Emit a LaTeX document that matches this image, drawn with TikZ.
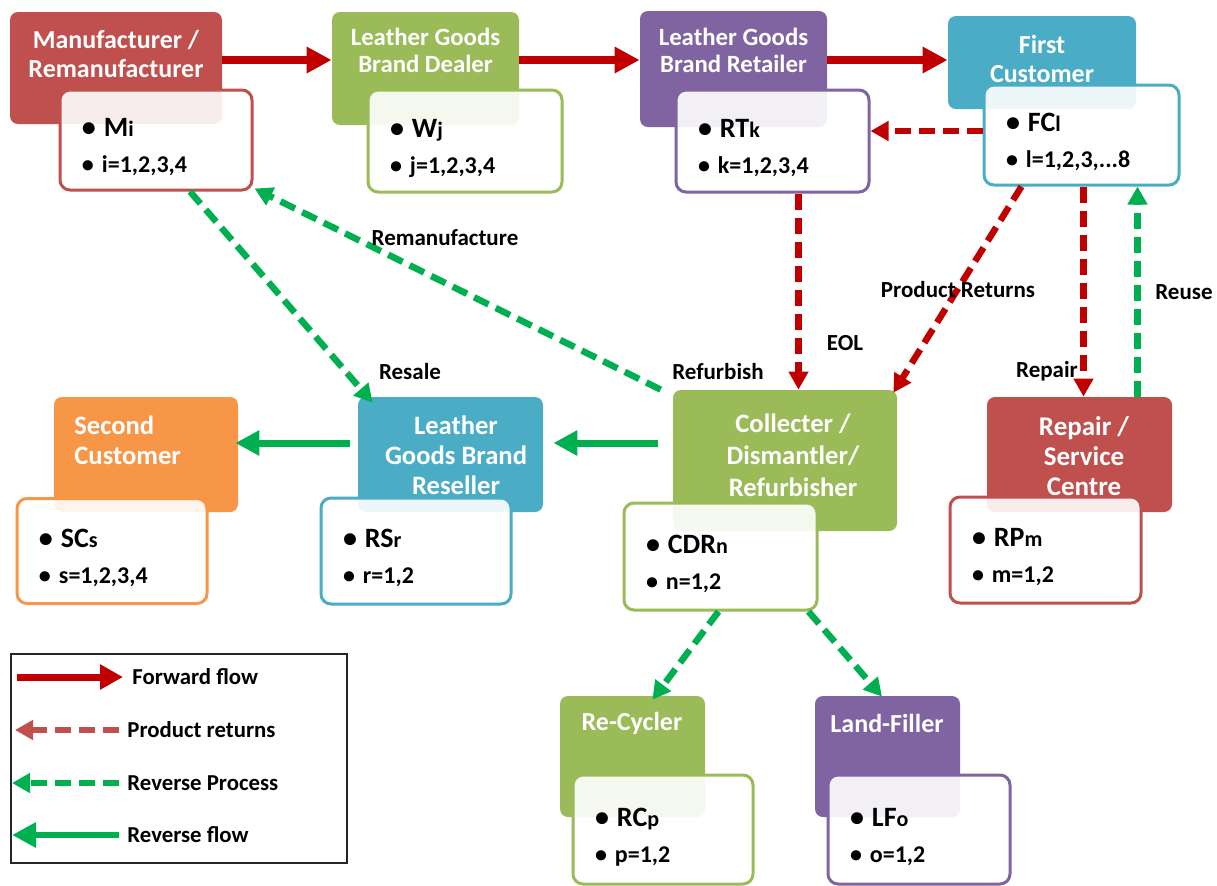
\documentclass[tikz,border=0pt]{standalone}
\usepackage{fontspec}
\setmainfont{Carlito}
\usepackage{tikz}
\usetikzlibrary{arrows.meta,positioning}
\definecolor{bred}{HTML}{C0504D}
\definecolor{bgreen}{HTML}{9BBB59}
\definecolor{bpurple}{HTML}{8064A2}
\definecolor{bblue}{HTML}{4BACC6}
\definecolor{borange}{HTML}{F79646}
\definecolor{fwdred}{HTML}{C00000}
\definecolor{revgreen}{HTML}{00B050}
\newcommand{\idx}[2]{{\rule{0pt}{16.5pt}\fontsize{14}{18}\selectfont\textbullet\ #1{\fontsize{11}{18}\selectfont #2}}}
\newcommand{\rng}[1]{\textbullet\ #1}
\tikzset{
  hd/.style={rectangle, rounded corners=4pt, draw=none, inner sep=0pt},
  ttl/.style={text=white, font=\bfseries\fontsize{13}{14.5}\selectfont,
              align=center, inner sep=0pt},
  lst/.style={rectangle, rounded corners=5pt, draw=#1, line width=1.5pt,
              fill=white, fill opacity=0.9, text opacity=1, text=black,
              align=left, inner xsep=11pt, inner ysep=0pt,
              font=\bfseries\fontsize{12}{18}\selectfont},
  fwd/.style={-{Triangle[length=12.5pt,width=12.5pt]}, line width=4pt, draw=fwdred},
  ret/.style={-{Triangle[length=9pt,width=9.5pt]}, line width=3.25pt,
              dash pattern=on 8pt off 4pt, draw=fwdred},
  rev/.style={ret, draw=revgreen},
  rflow/.style={-{Triangle[length=12pt,width=12pt]}, line width=3.5pt, draw=revgreen},
  lbl/.style={font=\bfseries\fontsize{11.5}{13}\selectfont, text=black, inner sep=1pt},
  lgd/.style={font=\bfseries\fontsize{11.4}{13}\selectfont, text=black, inner sep=0pt},
}
\begin{document}
\begin{tikzpicture}[x=0.5pt, y=-0.5pt]
\useasboundingbox (0,0) rectangle (1217,885);
\fill[white] (0,0) rectangle (1217,885);

% ---- forward chain ----
\node[hd, fill=bred, minimum width=106pt, minimum height=56pt] (mfg) at (116,68) {};
\node[ttl] (mfgt) at (116,54) {Manufacturer /\\Remanufacturer};
\node[lst=bred, text width=74pt, minimum height=50pt] (mfgl) at (156,140)
  {\idx{M}{i}\\ \rng{i=1,2,3,4}};

\node[hd, fill=bgreen, minimum width=93.5pt, minimum height=56.5pt] (dlr) at (425.5,68.5) {};
\node[ttl, font=\bfseries\fontsize{12.4}{13.5}\selectfont] (dlrt) at (425.5,50) {Leather Goods\\Brand Dealer};
\node[lst=bgreen, text width=75pt, minimum height=51pt] (dlrl) at (465,141)
  {\idx{W}{j}\\ \rng{j=1,2,3,4}};

\node[hd, fill=bpurple, minimum width=93.5pt, minimum height=58pt] (rtl) at (733.5,69) {};
\node[ttl, font=\bfseries\fontsize{12.4}{13.5}\selectfont] (rtlt) at (733.5,50) {Leather Goods\\Brand Retailer};
\node[lst=bpurple, text width=74.5pt, minimum height=51pt] (rtll) at (772.5,141)
  {\idx{RT}{k}\\ \rng{k=1,2,3,4}};

\node[hd, fill=bblue, minimum width=94pt, minimum height=46.5pt] (fc) at (1042,62.5) {};
\node[ttl] (fct) at (1042,59) {First\\Customer};
\node[lst=bblue, text width=75.5pt, minimum height=50pt] (fcl) at (1081.5,135)
  {\idx{FC}{l}\\ \rng{l=1,2,3,...8}};

% ---- reverse side ----
\node[hd, fill=borange, minimum width=92pt, minimum height=57.5pt] (sc) at (146,454.5) {};
\node[ttl, anchor=west, align=left, font=\bfseries\fontsize{13.3}{15}\selectfont] (sct) at (74,440) {Second\\Customer};
\node[lst=borange, text width=73pt, minimum height=52.5pt] (scl) at (112,551)
  {\idx{SC}{s}\\ \rng{s=1,2,3,4}};

\node[hd, fill=bblue, minimum width=92.5pt, minimum height=57.5pt] (rsl) at (450.5,454.5) {};
\node[ttl, font=\bfseries\fontsize{13.3}{15}\selectfont] (rslt) at (456,455) {Leather\\Goods Brand\\Reseller};
\node[lst=bblue, text width=73pt, minimum height=53pt] (rsll) at (416,551)
  {\idx{RS}{r}\\ \rng{r=1,2}};

\node[hd, fill=bgreen, minimum width=112pt, minimum height=70.5pt] (cdr) at (785,460.5) {};
\node[ttl, font=\bfseries\fontsize{13.3}{16}\selectfont] (cdrt) at (793,455.5) {Collecter /\\Dismantler/\\Refurbisher};
\node[lst=bgreen, text width=74.5pt, minimum height=53.5pt] (cdrl) at (720.5,556.5)
  {\idx{CDR}{n}\\ \rng{n=1,2}};

\node[hd, fill=bred, minimum width=92.5pt, minimum height=57.5pt] (rps) at (1079.5,454.5) {};
\node[ttl, font=\bfseries\fontsize{13.5}{15}\selectfont] (rpst) at (1084,456) {Repair /\\Service\\Centre};
\node[lst=bred, text width=73.5pt, minimum height=53pt] (rpsl) at (1045.5,550)
  {\idx{RP}{m}\\ \rng{m=1,2}};

\node[hd, fill=bgreen, minimum width=72.5pt, minimum height=60.5pt] (rcy) at (632.5,756.5) {};
\node[ttl, font=\bfseries\fontsize{13}{15}\selectfont] (rcyt) at (632,723) {Re-Cycler};
\node[lst=bgreen, text width=68pt, minimum height=54.5pt] (rcyl) at (663,829.5)
  {\idx{RC}{p}\\ \rng{p=1,2}};

\node[hd, fill=bpurple, minimum width=72.5pt, minimum height=60.5pt] (lfl) at (887.5,756.5) {};
\node[ttl, font=\bfseries\fontsize{13}{15}\selectfont] (lflt) at (887,723) {Land-Filler};
\node[lst=bpurple, text width=69pt, minimum height=54.5pt] (lfll) at (919,829.5)
  {\idx{LF}{o}\\ \rng{o=1,2}};

% ---- forward flow ----
\draw[fwd] ([yshift=4pt]mfg.east) -- ([yshift=4pt]mfg.east -| dlr.west);
\draw[fwd] ([yshift=4.25pt]dlr.east) -- ([yshift=4.25pt]dlr.east -| rtl.west);
\draw[fwd] ([yshift=4.5pt]rtl.east) -- ([yshift=4.5pt]rtl.east -| fc.west);

% ---- product returns ----
\draw[ret] ([yshift=2pt]fcl.west) -- ([yshift=2pt]fcl.west -| rtll.east);
\draw[ret] ([xshift=13pt]rtll.south) -- ([xshift=13pt]rtll.south |- cdr.north);
\draw[ret] ([xshift=-30pt]fcl.south) -- ([xshift=-2pt,yshift=-1.5pt]cdr.north east);
\draw[ret] ([xshift=1pt]fcl.south) -- ([xshift=1pt]fcl.south |- rps.north);

% ---- reverse process ----
\draw[rev] ([xshift=29pt]rps.north) -- ([xshift=29pt]rps.north |- fcl.south);
\draw[rev] ([xshift=-6pt]cdr.north west) -- ([xshift=0.5pt,yshift=1.5pt]mfgl.south east);
\draw[rev] ([xshift=17pt]mfgl.south) -- ([xshift=7.5pt,yshift=-3pt]rsl.north west);
\draw[rev] ([xshift=-1pt]cdrl.south) -- ([xshift=10pt,yshift=-2pt]rcy.north);
\draw[rev] ([xshift=44pt]cdrl.south) -- ([xshift=-2.75pt,yshift=-0.5pt]lfl.north);

% ---- reverse flow ----
\draw[rflow] ([xshift=-7.5pt,yshift=8.75pt]cdr.west) -- ([xshift=5pt,yshift=5.75pt]rsl.east);
\draw[rflow] ([xshift=-4pt,yshift=5.75pt]rsl.west) -- ([xshift=-1.5pt,yshift=5.75pt]sc.east);

% ---- labels ----
\node[lbl] (lrmf) at (445,238) {Remanufacture};
\node[lbl] (lrsl) at (410,372) {Resale};
\node[lbl] (lrfb) at (718,372) {Refurbish};
\node[lbl] (leol) at (845,343) {EOL};
\node[lbl] (lprt) at (958,290) {Product Returns};
\node[lbl] (lrep) at (1047,371) {Repair};
\node[lbl] (lreu) at (1184,292) {Reuse};

% ---- legend ----
\node[draw=black!85, line width=0.7pt, minimum width=168pt, minimum height=104.5pt,
      inner sep=0pt] (key) at (179,758.5) {};
\coordinate (k1a) at (17,677);  \coordinate (k1b) at (123,677);
\coordinate (k2a) at (119,730); \coordinate (k2b) at (15,730);
\coordinate (k3a) at (119,783); \coordinate (k3b) at (12,783);
\coordinate (k4a) at (119,835); \coordinate (k4b) at (12,835);
\draw[fwd, line width=3.5pt, -{Triangle[length=11.5pt,width=12pt]}] (k1a) -- (k1b);
\draw[ret, draw=bred, line width=2.75pt] (k2a) -- (k2b);
\draw[rev, line width=2.75pt] (k3a) -- (k3b);
\draw[rflow, line width=3pt] (k4a) -- (k4b);
\node[lgd, right=4.5pt of k1b] (k1t) {Forward flow};
\node[lgd, right=4pt of k2a] (k2t) {Product returns};
\node[lgd, right=4pt of k3a] (k3t) {Reverse Process};
\node[lgd, right=4pt of k4a] (k4t) {Reverse flow};

\end{tikzpicture}
\end{document}
